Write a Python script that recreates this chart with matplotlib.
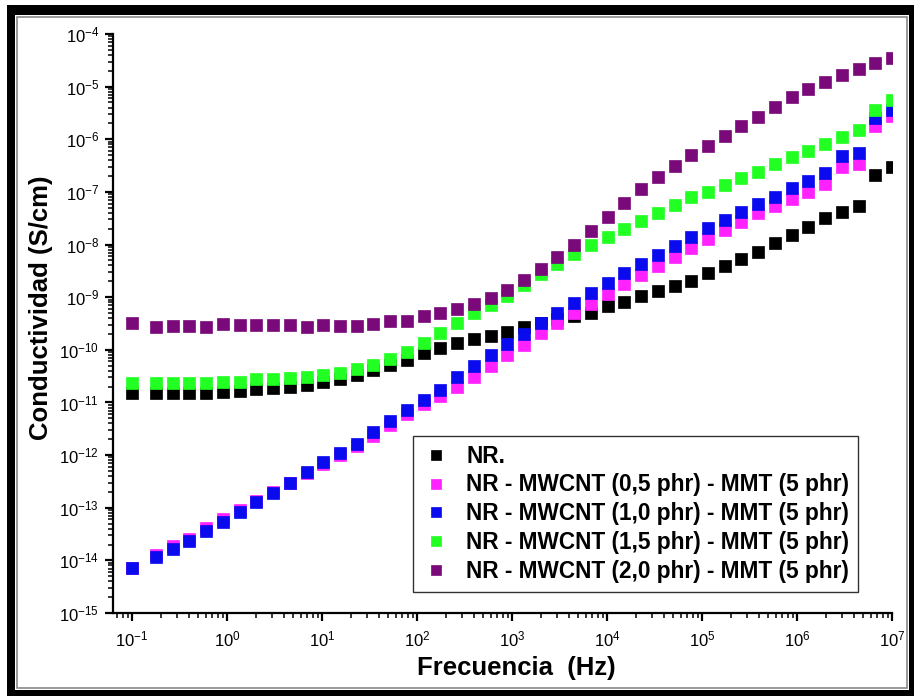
import matplotlib
matplotlib.use("Agg")
import matplotlib.pyplot as plt
from matplotlib.patches import Rectangle
from matplotlib.ticker import FixedLocator, LogLocator, NullFormatter

plt.rcParams['font.family'] = ['Liberation Sans', 'DejaVu Sans']
plt.rcParams['mathtext.fontset'] = 'custom'
plt.rcParams['mathtext.rm'] = 'Liberation Sans'
plt.rcParams['mathtext.it'] = 'Liberation Sans'
plt.rcParams['mathtext.bf'] = 'Liberation Sans:bold'
plt.rcParams['mathtext.default'] = 'regular'

freq = [0.1, 0.179, 0.268, 0.402, 0.603, 0.905, 1.357, 2.03, 3.05, 4.58,
        6.87, 10.3, 15.45, 23.2, 34.8, 52.2, 78.2, 117.3, 176, 264,
        396, 594, 891, 1337, 2005, 3007, 4511, 6766, 1.015e4, 1.522e4,
        2.284e4, 3.425e4, 5.138e4, 7.707e4, 1.156e5, 1.734e5, 2.601e5, 3.902e5, 5.853e5, 8.779e5,
        1.317e6, 1.975e6, 2.963e6, 4.444e6, 6.667e6, 1.0e7]

nr = [1.5e-11, 1.5e-11, 1.5e-11, 1.5e-11, 1.52e-11, 1.58e-11, 1.65e-11, 1.78e-11, 1.86e-11, 1.97e-11,
      2.1e-11, 2.4e-11, 2.76e-11, 3.3e-11, 4.1e-11, 5.1e-11, 6.3e-11, 8.6e-11, 1.07e-10, 1.34e-10,
      1.6e-10, 1.8e-10, 2.15e-10, 2.7e-10, 3.3e-10, 3.8e-10, 4.4e-10, 5.0e-10, 6.8e-10, 8.0e-10,
      1.04e-9, 1.3e-9, 1.6e-9, 2.0e-9, 2.9e-9, 3.9e-9, 5.3e-9, 7.2e-9, 1.07e-8, 1.5e-8,
      2.2e-8, 3.2e-8, 4.1e-8, 5.4e-8, 2.1e-7, 3.0e-7]

cnt05 = [7.05e-15, 1.24e-14, 1.85e-14, 2.6e-14, 4.1e-14, 6.0e-14, 8.9e-14, 1.32e-13, 1.96e-13, 2.9e-13,
         4.5e-13, 6.7e-13, 9.9e-13, 1.47e-12, 2.3e-12, 3.7e-12, 6.0e-12, 9.2e-12, 1.31e-11, 2.0e-11,
         3.1e-11, 4.9e-11, 7.9e-11, 1.22e-10, 2.07e-10, 3.2e-10, 5.0e-10, 7.4e-10, 1.14e-9, 1.77e-9,
         2.6e-9, 3.9e-9, 5.8e-9, 8.5e-9, 1.27e-8, 1.88e-8, 2.7e-8, 4.0e-8, 5.4e-8, 7.3e-8,
         9.9e-8, 1.41e-7, 3.0e-7, 3.4e-7, 1.78e-6, 2.8e-6]

cnt10 = [7.05e-15, 1.14e-14, 1.62e-14, 2.3e-14, 3.56e-14, 5.3e-14, 8.2e-14, 1.27e-13, 1.88e-13, 2.9e-13,
         4.7e-13, 7.3e-13, 1.08e-12, 1.6e-12, 2.7e-12, 4.4e-12, 7.1e-12, 1.1e-11, 1.7e-11, 3.0e-11,
         4.9e-11, 7.9e-11, 1.28e-10, 1.98e-10, 3.2e-10, 5.0e-10, 7.7e-10, 1.19e-9, 1.85e-9, 2.9e-9,
         4.2e-9, 6.3e-9, 9.3e-9, 1.38e-8, 2.05e-8, 2.9e-8, 4.1e-8, 5.9e-8, 8.0e-8, 1.18e-7,
         1.6e-7, 2.3e-7, 4.8e-7, 5.5e-7, 2.5e-6, 3.6e-6]

cnt15 = [2.3e-11, 2.3e-11, 2.3e-11, 2.3e-11, 2.3e-11, 2.45e-11, 2.45e-11, 2.75e-11, 2.75e-11, 2.9e-11,
         3.0e-11, 3.3e-11, 3.7e-11, 4.3e-11, 5.1e-11, 6.6e-11, 9.0e-11, 1.35e-10, 2.1e-10, 3.2e-10,
         5.0e-10, 7.1e-10, 1.05e-9, 1.7e-9, 2.8e-9, 4.3e-9, 6.6e-9, 9.7e-9, 1.39e-8, 2.0e-8,
         2.8e-8, 4.0e-8, 5.6e-8, 7.9e-8, 1.0e-7, 1.35e-7, 1.8e-7, 2.4e-7, 3.4e-7, 4.6e-7,
         6.0e-7, 8.1e-7, 1.1e-6, 1.5e-6, 3.6e-6, 5.6e-6]

cnt20 = [3.2e-10, 2.7e-10, 2.8e-10, 2.8e-10, 2.7e-10, 3.1e-10, 2.9e-10, 2.9e-10, 3.0e-10, 3.0e-10,
         2.7e-10, 3.0e-10, 2.8e-10, 2.8e-10, 3.1e-10, 3.6e-10, 3.6e-10, 4.4e-10, 5.0e-10, 6.0e-10,
         7.4e-10, 9.6e-10, 1.36e-9, 2.1e-9, 3.5e-9, 5.8e-9, 9.7e-9, 1.8e-8, 3.3e-8, 6.1e-8,
         1.13e-7, 1.9e-7, 3.1e-7, 5.0e-7, 7.4e-7, 1.15e-6, 1.78e-6, 2.6e-6, 4.1e-6, 6.3e-6,
         9.0e-6, 1.22e-5, 1.66e-5, 2.16e-5, 2.8e-5, 3.5e-5]

labels = ["NR.",
          "NR - MWCNT (0,5 phr) - MMT (5 phr)",
          "NR - MWCNT (1,0 phr) - MMT (5 phr)",
          "NR - MWCNT (1,5 phr) - MMT (5 phr)",
          "NR - MWCNT (2,0 phr) - MMT (5 phr)"]
series = [nr, cnt05, cnt10, cnt15, cnt20]
colors = ["#000000", "#ff22ff", "#0a0aee", "#22ff22", "#7a0a7a"]

x_ticks = [1e-1, 1e0, 1e1, 1e2, 1e3, 1e4, 1e5, 1e6, 1e7]
y_ticks = [1e-15, 1e-14, 1e-13, 1e-12, 1e-11, 1e-10, 1e-9, 1e-8, 1e-7, 1e-6, 1e-5, 1e-4]

W, H = 914, 696
fig = plt.figure(figsize=(W / 100, H / 100), dpi=100)
fig.patch.set_facecolor('white')

def px(x0, y0, x1, y1):
    return [x0 / W, 1 - y1 / H, (x1 - x0) / W, (y1 - y0) / H]

ax = fig.add_axes(px(113, 34, 892, 613))

for ys, c, lab in zip(series, colors, labels):
    ax.plot(freq, ys, linestyle='none', marker='s', markersize=9,
            color=c, markeredgecolor=c, markeredgewidth=0.5, label=lab)

ax.set_xscale('log')
ax.set_yscale('log')
ax.set_xlim(10 ** -1.2, 1e7)
ax.set_ylim(1e-15, 1e-4)

ax.xaxis.set_major_locator(FixedLocator(x_ticks))
ax.yaxis.set_major_locator(FixedLocator(y_ticks))
ax.xaxis.set_minor_locator(LogLocator(base=10, subs=range(2, 10), numticks=30))
ax.yaxis.set_minor_locator(LogLocator(base=10, subs=range(2, 10), numticks=30))
ax.xaxis.set_minor_formatter(NullFormatter())
ax.yaxis.set_minor_formatter(NullFormatter())

for s in ['top', 'right']:
    ax.spines[s].set_visible(False)
for s in ['left', 'bottom']:
    ax.spines[s].set_linewidth(1.6)

ax.tick_params(which='major', direction='out', length=6, width=1.6, labelsize=12, pad=4)
ax.tick_params(which='minor', direction='out', length=3.5, width=1.1)
ax.tick_params(axis='x', which='major', pad=6)

ax.set_xlabel("Frecuencia  (Hz)", fontsize=18.5, fontweight='bold', labelpad=0)
ax.xaxis.set_label_coords(0.518, -0.075)
ax.set_ylabel("Conductividad (S/cm)", fontsize=18.5, fontweight='bold', labelpad=7)
ax.yaxis.set_label_coords(-0.077, 0.527)

leg = ax.legend(loc='lower left', bbox_to_anchor=(0.385, 0.036), borderaxespad=0,
                frameon=True, fancybox=False, edgecolor='#333333', framealpha=1,
                prop={'weight': 'bold', 'size': 16.3}, markerscale=0.8,
                handlelength=1.2, handletextpad=0.75, labelspacing=0.26,
                borderpad=0.4)
leg.get_frame().set_linewidth(1.0)

# outer double frame
black = '#000000'
for r in [px(7, 5, 15, 696), px(7, 5, 914, 15), px(909, 5, 914, 696), px(7, 690, 914, 696)]:
    fig.add_artist(Rectangle((r[0], r[1]), r[2], r[3], transform=fig.transFigure,
                             facecolor=black, edgecolor='none'))
g = px(17, 17, 907, 688)
fig.add_artist(Rectangle((g[0], g[1]), g[2], g[3], transform=fig.transFigure,
                         facecolor='none', edgecolor='#888888', linewidth=1.2))

fig.savefig('out.png', dpi=100)
